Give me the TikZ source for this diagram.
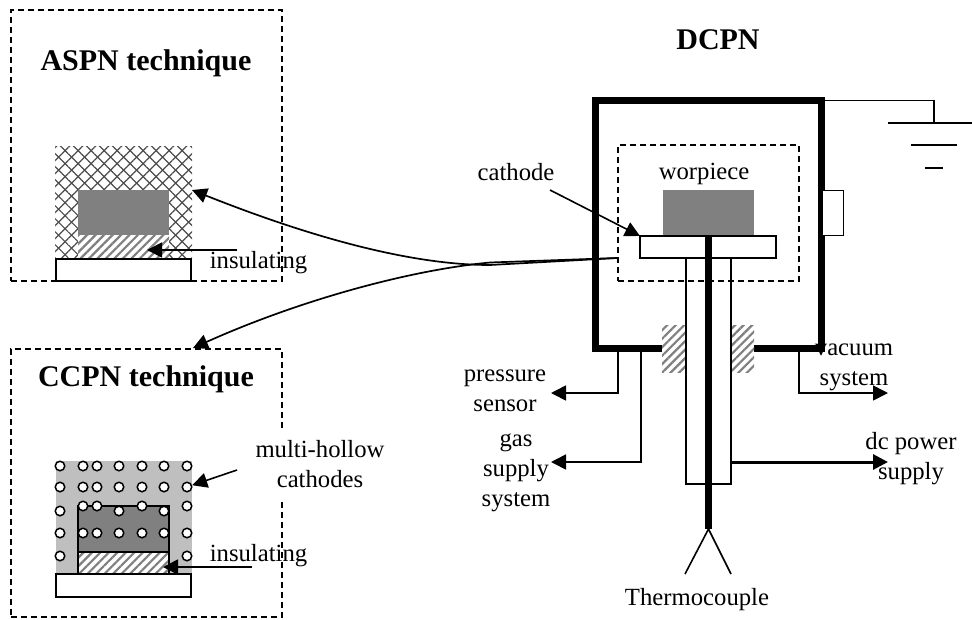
\documentclass[tikz,border=0pt]{standalone}
\usepackage{fontspec}
\setmainfont{Liberation Serif}
\usetikzlibrary{arrows.meta, patterns.meta, positioning}

\tikzset{
  lbl/.style={font=\fontsize{24.7}{30}\selectfont, align=center, inner sep=0pt},
  titlelbl/.style={font=\fontsize{30}{36}\selectfont\bfseries, align=center, inner sep=0pt},
  box/.style={draw, inner sep=0pt, outer sep=0pt, line width=1.6pt},
  dashbox/.style={box, dash pattern=on 6pt off 4pt, line width=1.3pt},
  solid gray/.style={inner sep=0pt, outer sep=0pt, fill=gray},
  hatchbox/.style={inner sep=0pt, outer sep=0pt, preaction={fill=white}, pattern={Lines[angle=45, distance=6pt, line width=2.2pt]}, pattern color=black!50},
  crossbox/.style={inner sep=0pt, outer sep=0pt, preaction={fill=white}},
  thin wire/.style={line width=1.6pt},
  hole/.style={circle, draw, fill=white, line width=1.5pt, minimum size=9.5pt, inner sep=0pt}
}

\begin{document}
\begin{tikzpicture}[x=1pt, y=-1pt, >={Triangle[length=15pt, width=15pt]}]
\useasboundingbox (0,0) rectangle (972,619);

% Dashed frames
\node (aspnframe) [dashbox, minimum width=271pt, minimum height=271pt] at (146.5,145.5) {};
\node (ccpnframe) [dashbox, minimum width=271pt, minimum height=268pt] at (146.5,483) {};

% ASPN technique
\node (aspntitle) [titlelbl] at (146,63) {ASPN technique};
\node (aspnmesh) [crossbox, minimum width=137pt, minimum height=113pt, pattern={Lines[angle=45, distance=9.2pt, line width=1.2pt]}, pattern color=black!70] at (123.5,202.5) {};
\node (aspnmesh2) [inner sep=0pt, outer sep=0pt, minimum width=137pt, minimum height=113pt, pattern={Lines[angle=-45, distance=9.2pt, line width=1.2pt]}, pattern color=black!70] at (123.5,202.5) {};
\node (aspnwork) [solid gray, minimum width=91pt, minimum height=45pt] at (123.5,212.5) {};
\node (aspnins) [hatchbox, minimum width=91pt, minimum height=24pt] at (123.5,247) {};
\node (aspnbase) [box, fill=white, minimum width=135pt, minimum height=22pt] at (123.5,270) {};
\node (aspninslbl) [lbl] at (258.5,262.5) {insulating};
\coordinate (aspnstart) at (237,250);
\draw[->, thin wire] (aspnstart) -- (147,250);

% CCPN technique
\node (ccpntitle) [titlelbl] at (146,379) {CCPN technique};
\node (ccpnbody) [inner sep=0pt, outer sep=0pt, fill=black!25, minimum width=136pt, minimum height=113pt] at (124,517.5) {};
\node (ccpnwork) [box, fill=gray, minimum width=91pt, minimum height=46pt] at (123.5,529) {};
\node (ccpnins) [hatchbox, minimum width=91pt, minimum height=22pt] at (123.5,563) {};
\draw[thin wire] (ccpnins.north west) rectangle (ccpnins.south east);
\node (ccpnbase) [box, fill=white, minimum width=135pt, minimum height=23pt] at (123.5,585.5) {};
% Holes
\foreach \hx in {60,83,97,119,142,164,187} {
  \node (hta\hx) [hole] at (\hx,466) {};
  \node (htb\hx) [hole] at (\hx,487) {};
  \node (htd\hx) [hole] at (\hx,533) {};
}
\foreach \hx in {60,119,164} \node (htc\hx) [hole] at (\hx,511) {};
\foreach \hx in {83,97,142,187} \node (htc\hx) [hole] at (\hx,506) {};
\foreach \hx in {60,187} \node (hte\hx) [hole] at (\hx,556) {};

\node (hollowlbl) [lbl, fill=white, inner xsep=3pt, inner ysep=10pt] at (320,464) {multi-hollow\\cathodes};
\node (ccpninslbl) [lbl] at (258.5,555.5) {insulating};
\coordinate (hollowstart) at (237,470);
\coordinate (ccpnstart) at (252,567);
\draw[->, thin wire] (hollowstart) -- (htb187);
\draw[->, thin wire] (ccpnstart) -- (163,567);

% DCPN chamber
\node (dcpntitle) [titlelbl] at (718,39.5) {DCPN};
\draw[line width=7pt] (662,348.5) -- (595.5,348.5) -- (595.5,100.5) -- (821.5,100.5) -- (821.5,348.5) -- (754,348.5);
\node (dcpnframe) [dashbox, minimum width=181pt, minimum height=136pt] at (708.5,213) {};
\node (worklbl) [lbl] at (704,173.5) {worpiece};
\node (work) [solid gray, minimum width=91pt, minimum height=46pt] at (708.5,213) {};
\node (plate) [box, fill=white, minimum width=136pt, minimum height=22pt] at (708,247) {};
\node (portbox) [box, fill=white, minimum width=21pt, minimum height=45pt] at (833,213) {};
\node (sealleft) [hatchbox, minimum width=24pt, minimum height=47pt] at (674,348.5) {};
\node (sealright) [hatchbox, minimum width=24pt, minimum height=47pt] at (742,348.5) {};

% Tube and thermocouple
\coordinate (tubeleft) at (686,258);
\coordinate (tuberight) at (731,258);
\coordinate (tubeout) at (731,462);
\draw[thin wire] (tubeleft) -- (686,484) -- (731,484) -- (tuberight);
\coordinate (tctop) at (708.5,236);
\coordinate (tcend) at (708.5,529);
\draw[line width=7pt] (tctop) -- (tcend);
\node (tclbl) [lbl] at (697,600) {Thermocouple};
\draw[thin wire] (685,574) -- (tcend) -- (731,574);

% Ground
\coordinate (gndfrom) at (825,100.5);
\coordinate (gndtop) at (934,123);
\draw[thin wire] (gndfrom) -| (gndtop);
\draw[thin wire] (888,123) -- (972,123);
\draw[thin wire] (911,145) -- (957,145);
\draw[thin wire] (925,168) -- (943,168);

% Outlets
\node (presslbl) [lbl] at (505,390.5) {pressure\\sensor};
\node (gaslbl) [lbl] at (516,472.5) {gas\\supply\\system};
\node (vaclbl) [lbl] at (854,367.5) {vacuum\\system};
\node (powerlbl) [lbl] at (911,458.5) {dc power\\supply};
\coordinate (pressfrom) at (618,352);
\coordinate (gasfrom) at (641,352);
\coordinate (vacfrom) at (799,352);
\coordinate (presstip) at (551,393);
\coordinate (gastip) at (551,462);
\coordinate (vactip) at (888,393);
\coordinate (powertip) at (888,462);
\draw[->, thin wire] (pressfrom) |- (presstip);
\draw[->, thin wire] (gasfrom) |- (gastip);
\draw[->, thin wire] (vacfrom) |- (vactip);
\draw[->, line width=3pt] (tubeout) -- (powertip);

% Cathode label and long arrows
\node (cathlbl) [lbl] at (516,172.5) {cathode};
\coordinate (cathfrom) at (550,190);
\coordinate (link) at (617,258);
\coordinate (crossup) at (490,265);
\coordinate (crossdown) at (490,262.5);
\coordinate (aspntip) at (192,190);
\coordinate (ccpntip) at (193,348);
\draw[->, thin wire] (cathfrom) -- (plate.north west);
\draw[->, line width=1.7pt] (link) -- (crossup) .. controls (405,265) and (300,233) .. (aspntip);
\draw[->, line width=1.7pt] (link) -- (crossdown) .. controls (410,270) and (300,300) .. (ccpntip);
\end{tikzpicture}
\end{document}
